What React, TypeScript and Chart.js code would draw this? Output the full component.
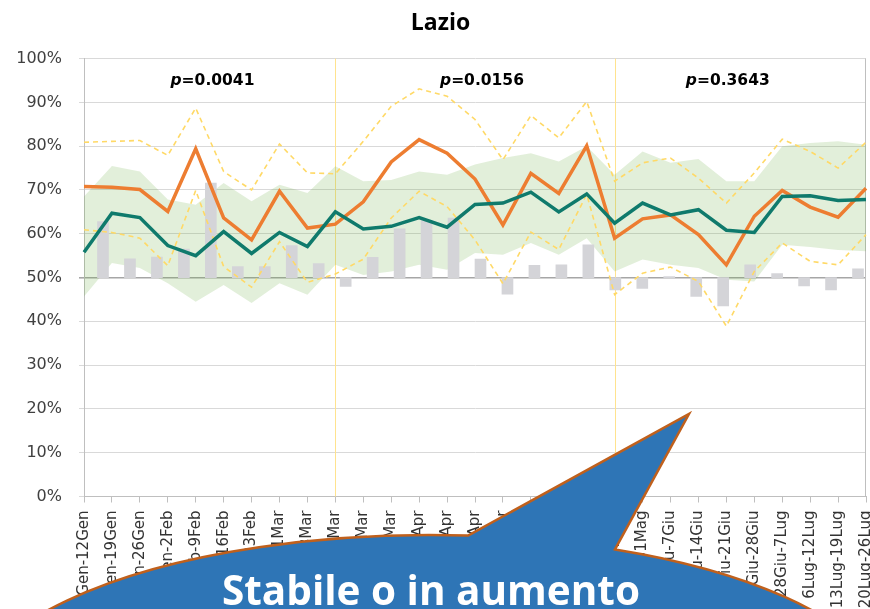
import React, { useEffect, useRef } from 'react';
import { Chart, registerables } from 'chart.js';

Chart.register(...registerables);

const weekLabels = [
  '6Gen-12Gen', '13Gen-19Gen', '20Gen-26Gen', '27Gen-2Feb', '3Feb-9Feb', '10Feb-16Feb',
  '17Feb-23Feb', '24Feb-1Mar', '2Mar-8Mar', '9Mar-15Mar', '16Mar-22Mar', '23Mar-29Mar',
  '30Mar-5Apr', '6Apr-12Apr', '13Apr-19Apr', '20Apr-26Apr', '27Apr-3Mag', '4Mag-10Mag',
  '11Mag-17Mag', '18Mag-24Mag', '25Mag-31Mag', '1Giu-7Giu', '8Giu-14Giu', '15Giu-21Giu',
  '22Giu-28Giu', '28Giu-7Lug', '6Lug-12Lug', '13Lug-19Lug', '20Lug-26Lug',
];

// observed % (orange)
const observed = [
  70.8, 70.6, 70.1, 65.1, 79.4, 63.6, 58.6, 69.7, 61.3, 62.2, 67.3, 76.4, 81.5, 78.4, 72.5,
  62.0, 73.8, 69.2, 80.1, 59.0, 63.4, 64.3, 59.8, 52.9, 64.0, 69.9, 66.1, 63.8, 70.4,
];

// expected % (teal)
const expected = [
  55.8, 64.7, 63.7, 57.3, 55.0, 60.5, 55.5, 60.3, 57.1, 65.0, 61.1, 61.7, 63.7, 61.5, 66.7,
  67.0, 69.5, 65.0, 69.1, 62.4, 67.0, 64.3, 65.5, 60.8, 60.3, 68.5, 68.7, 67.6, 67.8,
];

// expected range (green band)
const bandUpper = [
  68.5, 75.5, 74.2, 67.8, 66.6, 71.6, 67.4, 71.2, 69.3, 75.4, 72.0, 72.3, 74.2, 73.5, 75.8,
  77.3, 78.4, 76.5, 80.0, 73.5, 78.8, 76.2, 77.1, 72.0, 72.0, 80.0, 80.7, 81.1, 80.3,
];
const bandLower = [
  45.7, 53.3, 52.2, 48.7, 44.5, 48.3, 44.2, 48.7, 46.1, 52.9, 50.6, 51.4, 52.9, 51.8, 55.6,
  55.2, 57.9, 55.2, 59.0, 51.4, 54.1, 52.9, 52.2, 49.5, 49.1, 57.5, 57.0, 56.3, 56.0,
];

// confidence limits of the observed value (dashed yellow)
const ciUpper = [
  80.9, 81.1, 81.3, 77.9, 88.7, 74.2, 70.0, 80.5, 73.9, 73.7, 81.1, 89.1, 93.1, 91.4, 86.1,
  76.9, 87.0, 81.9, 90.2, 72.0, 76.2, 77.3, 72.7, 67.0, 73.9, 81.6, 78.8, 75.0, 80.9,
];
const ciLower = [
  60.9, 60.3, 59.0, 52.7, 69.9, 52.5, 47.8, 58.2, 48.9, 50.8, 54.2, 63.6, 69.7, 66.2, 58.6,
  48.6, 60.4, 56.4, 69.0, 46.1, 51.0, 52.4, 49.1, 38.9, 51.4, 57.9, 53.7, 52.9, 59.8,
];

// grey bars, hanging from the 50% baseline
const barValues = [
  62.8, 54.3, 54.7, 56.5, 71.6, 52.5, 52.5, 57.3, 53.2, 48.0, 54.6, 61.1, 63.0, 63.6, 54.2,
  46.2, 52.8, 52.9, 57.5, 47.2, 47.5, 50.2, 45.7, 43.5, 52.9, 50.9, 48.1, 47.2, 52.0,
];
const barBase = 50;

const yTickValues = [0, 10, 20, 30, 40, 50, 60, 70, 80, 90, 100];
const periodBreaks = [9, 19];
const pValues = ['0.0041', '0.0156', '0.3643'];
const pPositions = [4.6, 14.25, 23.05];

const COLORS = {
  orange: '#ED7D31',
  teal: '#0F7A6C',
  band: 'rgba(112, 173, 71, 0.2)',
  bar: '#D4D4D8',
  dashed: '#FFD966',
  grid: '#D9D9D9',
  axis: '#BFBFBF',
  text: '#404040',
};

const decorations = {
  id: 'decorations',
  beforeDatasetsDraw(chart: any) {
    const { ctx, chartArea, scales } = chart;
    ctx.save();
    ctx.strokeStyle = '#FFE38F';
    ctx.lineWidth = 1;
    periodBreaks.forEach((i) => {
      const x = Math.round(scales.x.getPixelForValue(i)) + 0.5;
      ctx.beginPath();
      ctx.moveTo(x, chartArea.top);
      ctx.lineTo(x, chartArea.bottom);
      ctx.stroke();
    });
    ctx.strokeStyle = COLORS.axis;
    const xr = Math.round(chartArea.right) - 0.5;
    ctx.beginPath();
    ctx.moveTo(xr, chartArea.top);
    ctx.lineTo(xr, chartArea.bottom);
    ctx.stroke();
    ctx.restore();
  },
  afterDraw(chart: any) {
    const { ctx, scales } = chart;
    ctx.save();
    ctx.fillStyle = '#000';
    ctx.textBaseline = 'middle';
    const y = scales.y.getPixelForValue(95);
    const italic = 'italic bold 15.5px "DejaVu Sans"';
    const bold = 'bold 15.5px "DejaVu Sans"';
    pValues.forEach((pv, k) => {
      const cx = scales.x.getPixelForValue(pPositions[k]);
      ctx.font = italic;
      const w1 = ctx.measureText('p').width;
      ctx.font = bold;
      const rest = '=' + pv;
      const w2 = ctx.measureText(rest).width;
      const x0 = cx - (w1 + w2) / 2;
      ctx.font = italic;
      ctx.textAlign = 'left';
      ctx.fillText('p', x0, y);
      ctx.font = bold;
      ctx.fillText(rest, x0 + w1, y);
    });
    ctx.restore();
  },
};

export default function App() {
  const canvasRef = useRef<HTMLCanvasElement | null>(null);

  useEffect(() => {
    const canvas = canvasRef.current;
    if (!canvas) return;
    const lineCommon = {
      type: 'line' as const,
      xAxisID: 'x',
      yAxisID: 'y',
      pointRadius: 0,
      pointHoverRadius: 0,
      tension: 0,
    };
    const chart = new Chart(canvas, {
      type: 'line',
      data: {
        labels: weekLabels,
        datasets: [
          {
            ...lineCommon,
            label: 'band-lower',
            data: bandLower,
            borderWidth: 0,
            borderColor: 'rgba(0,0,0,0)',
            fill: false,
            order: 6,
          },
          {
            ...lineCommon,
            label: 'band-upper',
            data: bandUpper,
            borderWidth: 0,
            borderColor: 'rgba(0,0,0,0)',
            backgroundColor: COLORS.band,
            fill: '-1',
            order: 6,
          },
          {
            type: 'bar',
            label: 'bars',
            xAxisID: 'x2',
            yAxisID: 'y',
            data: barValues.map((v) => [barBase, v]),
            backgroundColor: COLORS.bar,
            borderWidth: 0,
            barThickness: 11,
            order: 5,
          } as any,
          {
            ...lineCommon,
            label: 'ci-upper',
            data: ciUpper,
            borderColor: COLORS.dashed,
            borderWidth: 1.6,
            borderDash: [5, 4],
            fill: false,
            order: 4,
          },
          {
            ...lineCommon,
            label: 'ci-lower',
            data: ciLower,
            borderColor: COLORS.dashed,
            borderWidth: 1.6,
            borderDash: [5, 4],
            fill: false,
            order: 4,
          },
          {
            ...lineCommon,
            label: 'observed',
            data: observed,
            borderColor: COLORS.orange,
            borderWidth: 3.5,
            fill: false,
            order: 2,
          },
          {
            ...lineCommon,
            label: 'expected',
            data: expected,
            borderColor: COLORS.teal,
            borderWidth: 3.5,
            fill: false,
            order: 1,
          },
        ],
      },
      options: {
        animation: false,
        responsive: false,
        devicePixelRatio: 1,
        layout: { autoPadding: false, padding: { left: 15, right: 4, top: 0, bottom: 0 } },
        plugins: {
          legend: { display: false },
          tooltip: { enabled: false },
          title: {
            display: true,
            text: 'Lazio',
            color: '#000',
            font: { family: '"Open Sans"', size: 23, weight: 'bold' },
            padding: { top: 10, bottom: 21 },
          },
        },
        scales: {
          x: {
            type: 'category',
            offset: false,
            grid: {
              drawOnChartArea: false,
              drawTicks: true,
              tickLength: 6,
              color: COLORS.axis,
            },
            border: { color: COLORS.axis },
            ticks: {
              autoSkip: false,
              maxRotation: 90,
              minRotation: 90,
              padding: 8,
              color: '#333333',
              font: { family: '"DejaVu Sans"', size: 15 },
            },
            afterFit: (scale: any) => {
              scale.height = 112.5;
              scale.paddingLeft = 0;
              scale.paddingRight = 0;
            },
          },
          x2: {
            type: 'category',
            offset: true,
            display: false,
            grid: { display: false },
          },
          y: {
            min: 0,
            max: 100,
            afterBuildTicks: (scale: any) => {
              scale.ticks = yTickValues.map((v) => ({ value: v }));
            },
            ticks: {
              padding: 17,
              color: COLORS.text,
              font: { family: '"DejaVu Sans"', size: 16 },
              callback: (v: any) => v + '%',
            },
            grid: {
              color: (c: any) => (c.tick && c.tick.value === 50 ? '#A6A6A6' : COLORS.grid),
              lineWidth: (c: any) => (c.tick && c.tick.value === 50 ? 1.6 : 1),
              tickLength: 5,
              drawTicks: true,
            },
            border: { color: COLORS.axis },
            afterFit: (scale: any) => {
              scale.width = 69;
            },
          },
        },
      } as any,
      plugins: [decorations],
    });
    return () => chart.destroy();
  }, []);

  return (
    <div
      style={{
        position: 'fixed',
        left: 0,
        top: 0,
        width: 870,
        height: 609,
        overflow: 'hidden',
        background: '#fff',
      }}
    >
      <canvas ref={canvasRef} width={870} height={609} style={{ width: 870, height: 609, display: 'block' }} />
      <svg
        width={870}
        height={609}
        style={{ position: 'absolute', left: 0, top: 0, pointerEvents: 'none' }}
      >
        <path
          d="M 468 535.6 L 689 414 L 615 549.4 A 460 170 0 1 1 468 535.6 Z"
          fill="#2E75B6"
          stroke="#C0601C"
          strokeWidth={2.5}
          strokeLinejoin="miter"
        />
        <text
          x={431}
          y={605}
          textAnchor="middle"
          fill="#FFFFFF"
          fontFamily="'Open Sans', sans-serif"
          fontWeight={700}
          fontSize={42}
          textLength={418}
          lengthAdjust="spacingAndGlyphs"
        >
          Stabile o in aumento
        </text>
      </svg>
    </div>
  );
}
